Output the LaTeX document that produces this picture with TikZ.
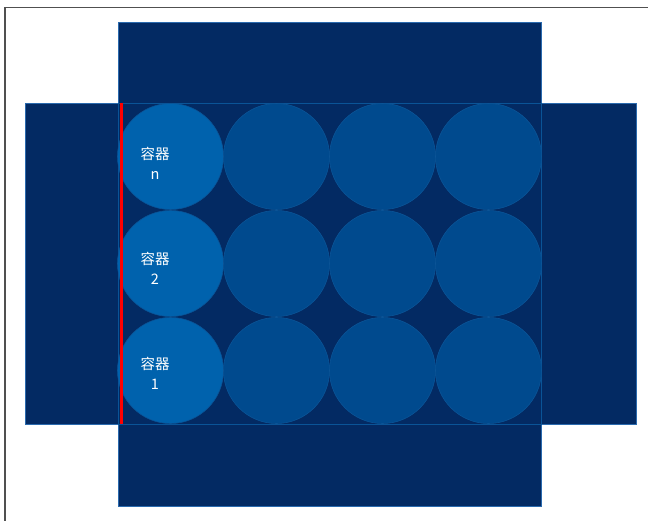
\documentclass[tikz,border=0pt]{standalone}
\usepackage{fontspec}
\newfontfamily\cjk{Noto Sans CJK SC}
\definecolor{navy}{HTML}{032A63}
\definecolor{edgeblue}{HTML}{2A6AAE}
\definecolor{circA}{HTML}{0062AD}
\definecolor{circB}{HTML}{004A8E}
\definecolor{circedge}{HTML}{0A5497}
\definecolor{framegray}{HTML}{505050}
\tikzset{
  panel/.style={fill=navy, draw=edgeblue, line width=0.8pt},
  innerpanel/.style={fill=navy, draw=circedge, line width=0.8pt},
  canA/.style={circle, fill=circA, draw=circedge, line width=0.6pt, minimum size=106pt, inner sep=0pt},
  canB/.style={circle, fill=circB, draw=circedge, line width=0.6pt, minimum size=106pt, inner sep=0pt},
  lbl/.style={text=white, font=\cjk\fontsize{14.5}{20}\selectfont, align=center, inner sep=0pt}
}
\begin{document}
\begin{tikzpicture}[x=1pt,y=-1pt]
\useasboundingbox (0,0) rectangle (648,521);
% frame lines
\draw[framegray, line width=1.2pt] (5,521) -- (5,7.5) -- (648,7.5);
% outer flaps
\draw[panel] (118,22) rectangle (541,103);
\draw[panel] (118,424) rectangle (541,506);
\draw[panel] (25,103) rectangle (118,424);
\draw[panel] (541,103) rectangle (636,424);
\draw[innerpanel] (118,103) rectangle (541,424);
% cans
\foreach \r/\yy in {1/156.5, 2/263.5, 3/370.5}{
  \node[canA] (c\r a) at (170.5,\yy) {};
  \node[canB] (c\r b) at (276.5,\yy) {};
  \node[canB] (c\r c) at (382.5,\yy) {};
  \node[canB] (c\r d) at (488.5,\yy) {};
}
% labels
\node[lbl] (ln) at (155,163) {容器\\n};
\node[lbl] (l2) at (155,268) {容器\\2};
\node[lbl] (l1) at (155,373) {容器\\1};
% red line
\coordinate (rt) at (121.5,103);
\coordinate (rb) at (121.5,424);
\draw[red, line width=2.6pt] (rt) -- (rb);
\end{tikzpicture}
\end{document}
